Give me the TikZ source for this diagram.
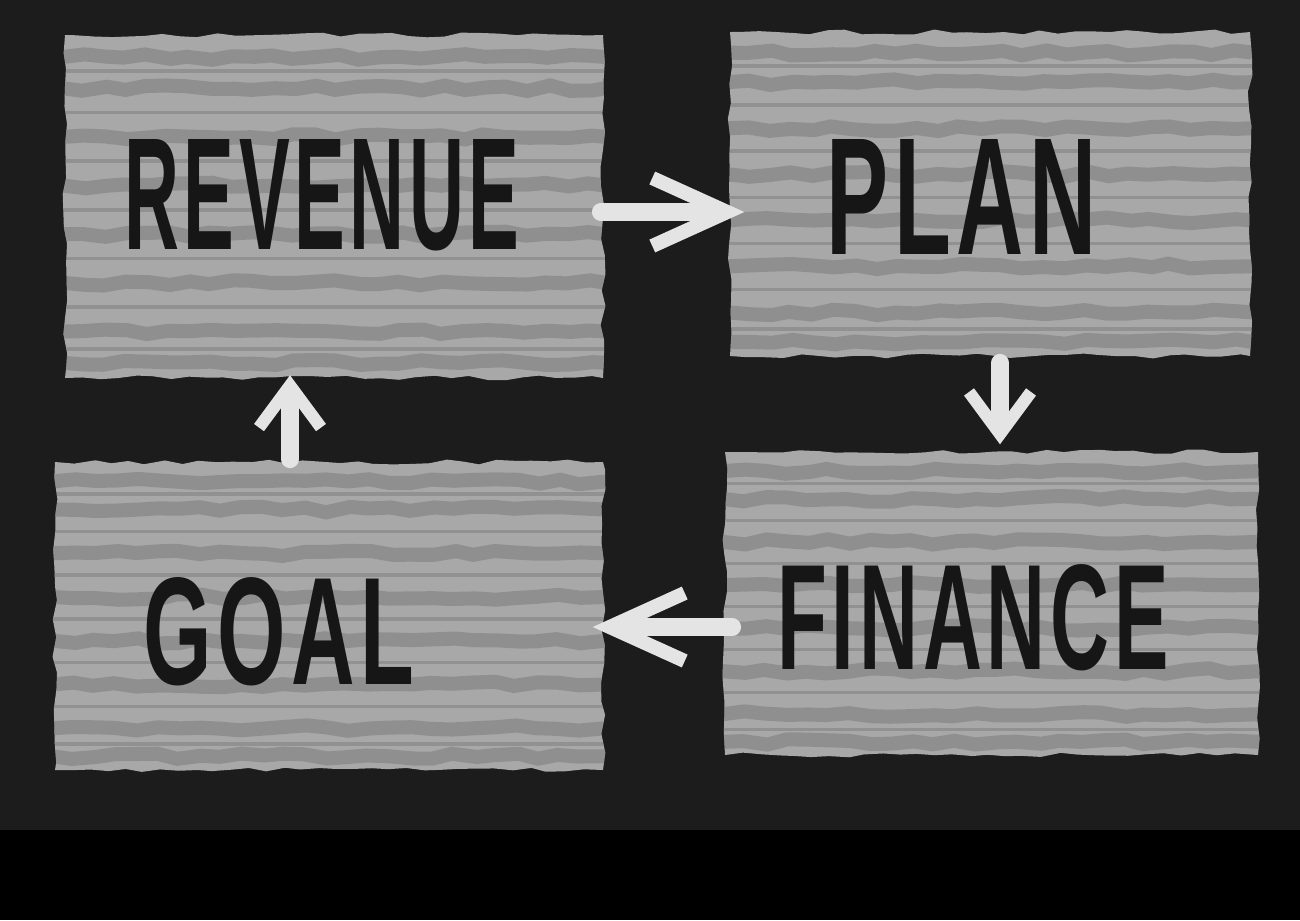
\documentclass[tikz,border=0pt]{standalone}
\usepackage{fontspec}
\setmainfont{Liberation Sans}
\usepackage{graphicx}
\usetikzlibrary{arrows.meta,positioning,calc,decorations.pathmorphing}
\definecolor{board}{HTML}{1C1C1C}
\definecolor{chalkgrey}{HTML}{A8A8A8}
\definecolor{chalkdark}{HTML}{7C7C7C}
\definecolor{chalkwhite}{HTML}{E4E4E4}
\definecolor{ink}{HTML}{161616}
\newcommand{\chalkword}[3]{\resizebox{#1}{#2}{\bfseries\addfontfeature{LetterSpace=6}#3}}

\begin{document}
\begin{tikzpicture}[chalk/.style={draw=chalkwhite,line width=5pt,line cap=round},
    longhead/.style={-{Straight Barb[length=0.75cm,width=0.68cm,line width=4pt]}},
    shorthead/.style={-{Straight Barb[length=0.42cm,width=0.62cm,line width=3.5pt]}}]
  \tikzstyle{patch}=[fill=chalkgrey,draw=none,inner sep=0pt,
    decorate,decoration={random steps,segment length=5pt,amplitude=0.7pt},
    path picture={
      \foreach \k in {0.07,0.16,0.30,0.44,0.58,0.72,0.86,0.95}
        \draw[chalkdark,line width=4pt,opacity=0.55,decorate,decoration={random steps,segment length=6pt,amplitude=0.8pt}]
          ($(path picture bounding box.north west)!\k!(path picture bounding box.south west)$) --
          ($(path picture bounding box.north east)!\k!(path picture bounding box.south east)$);
      \foreach \k in {0.11,0.23,0.37,0.51,0.65,0.79,0.91}
        \draw[chalkdark,line width=1pt,opacity=0.5]
          ($(path picture bounding box.north west)!\k!(path picture bounding box.south west)$) --
          ($(path picture bounding box.north east)!\k!(path picture bounding box.south east)$);
    }]
  \tikzstyle{word}=[text=ink,inner sep=0pt]

  \pgfmathsetseed{7}
  \useasboundingbox (0,0) rectangle (13,-9.2);
  \fill[board] (0,0) rectangle (13,-8.3);
  \fill[black] (0,-8.3) rectangle (13,-9.2);

  \node[patch,minimum width=5.38cm,minimum height=3.43cm] (rev) at (3.34,-2.065) {};
  \node[patch,minimum width=5.20cm,minimum height=3.24cm] (plan) at (9.90,-1.94) {};
  \node[patch,minimum width=5.33cm,minimum height=3.03cm] (fin) at (9.915,-6.035) {};
  \node[patch,minimum width=5.48cm,minimum height=3.08cm] (goal) at (3.29,-6.16) {};

  \node[word] (revtxt) at (3.22,-1.95) {\chalkword{3.95cm}{1.1cm}{REVENUE}};
  \node[word] (plantxt) at (9.62,-1.97) {\chalkword{2.7cm}{1.15cm}{PLAN}};
  \node[word] (fintxt) at (9.73,-6.18) {\chalkword{3.92cm}{1.05cm}{FINANCE}};
  \node[word] (goaltxt) at (2.79,-6.32) {\chalkword{2.7cm}{1.07cm}{GOAL}};

  \draw[chalk,longhead,shorten <=-0.03cm,shorten >=-0.15cm] ([yshift=-0.055cm]rev.east) -- ([yshift=-0.055cm]rev.east -| plan.west);
  \draw[chalk,shorthead,shorten <=0.06cm,shorten >=0.07cm] ([xshift=0.1cm]plan.south) -- ([xshift=0.1cm]plan.south |- fin.north);
  \draw[chalk,longhead,shorten <=-0.08cm,shorten >=-0.11cm] ([yshift=-0.235cm]fin.west) -- ([yshift=-0.235cm]fin.west -| goal.east);
  \draw[chalk,shorthead,shorten <=0.02cm,shorten >=-0.035cm] ([xshift=-0.39cm]goal.north) -- ([xshift=-0.39cm]goal.north |- rev.south);
\end{tikzpicture}
\end{document}
